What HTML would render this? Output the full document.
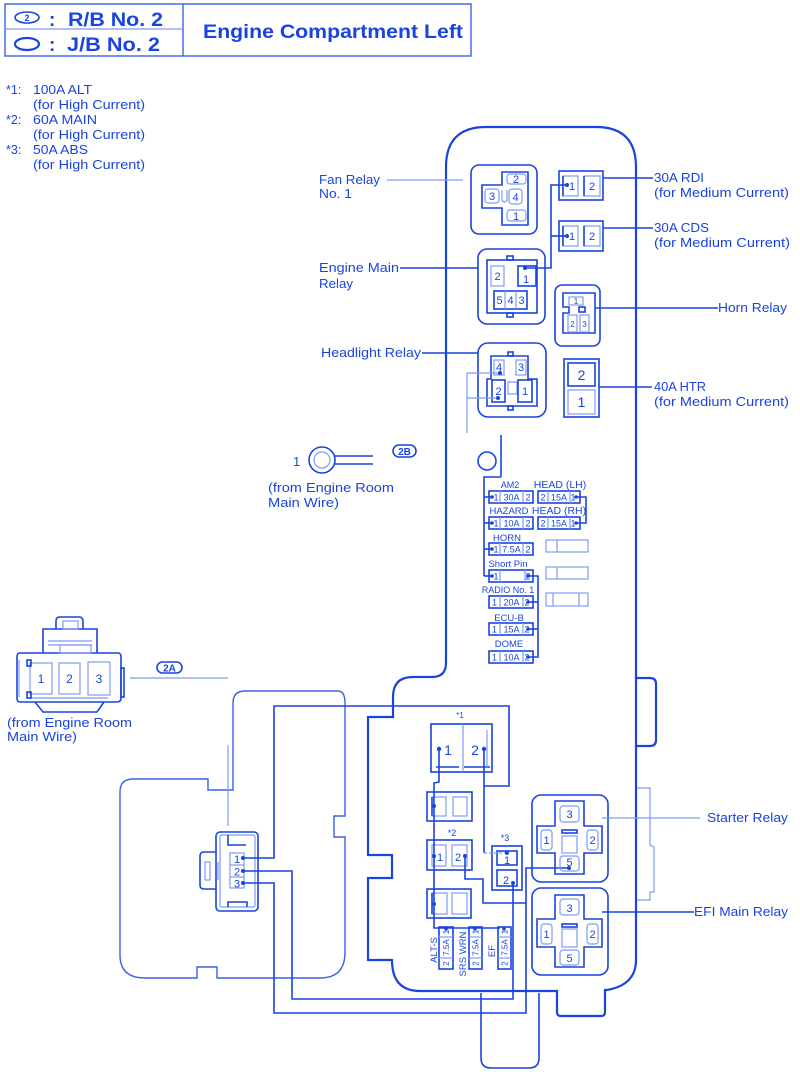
<!DOCTYPE html>
<html><head><meta charset="utf-8"><style>
html,body{margin:0;padding:0;background:#fff;}
svg{display:block}
.s{stroke:#1a44e0;fill:none;stroke-width:1.6}
.w{stroke:#1a44e0;fill:none;stroke-width:2.2}
.l{stroke:#7f9bf0;fill:none;stroke-width:1.2}
.m{stroke:#3a60e8;fill:none;stroke-width:1.4}
text{fill:#1a44e0;font-family:"Liberation Sans",Arial,sans-serif}
.lb{font-size:12.5px}
.f{font-size:9px}
.d{fill:#1a44e0}
</style></head><body>
<svg width="800" height="1072" viewBox="0 0 800 1072" xmlns="http://www.w3.org/2000/svg">
<!-- Header -->
<rect x="5" y="4" width="466" height="52" class="m"/>
<line x1="183" y1="4" x2="183" y2="56" class="m"/>
<line x1="5" y1="29" x2="183" y2="29" class="l"/>
<ellipse cx="27" cy="17.5" rx="12" ry="5.5" class="s" stroke-width="2"/>
<text x="27" y="21" font-size="9" font-weight="bold" text-anchor="middle">2</text>
<text x="49" y="26" font-size="19" font-weight="bold">:</text>
<text x="68" y="26" font-size="19" font-weight="bold" textLength="95" lengthAdjust="spacingAndGlyphs">R/B No. 2</text>
<ellipse cx="27" cy="44" rx="12" ry="6" class="w"/>
<text x="49" y="51" font-size="19" font-weight="bold">:</text>
<text x="67" y="51" font-size="19" font-weight="bold" textLength="93" lengthAdjust="spacingAndGlyphs">J/B No. 2</text>
<text x="203" y="38" font-size="19" font-weight="bold" textLength="260" lengthAdjust="spacingAndGlyphs">Engine Compartment Left</text>

<!-- Notes -->
<g class="lb">
<text x="6" y="94">*1:</text><text x="33" y="94" textLength="59" lengthAdjust="spacingAndGlyphs">100A ALT</text>
<text x="33" y="109" textLength="112" lengthAdjust="spacingAndGlyphs">(for High Current)</text>
<text x="6" y="124">*2:</text><text x="33" y="124" textLength="64" lengthAdjust="spacingAndGlyphs">60A MAIN</text>
<text x="33" y="139" textLength="112" lengthAdjust="spacingAndGlyphs">(for High Current)</text>
<text x="6" y="154">*3:</text><text x="33" y="154" textLength="55" lengthAdjust="spacingAndGlyphs">50A ABS</text>
<text x="33" y="169" textLength="112" lengthAdjust="spacingAndGlyphs">(for High Current)</text>
</g>

<!-- Main box outline -->
<path class="w" d="M446,663 L446,167 Q446,127 486,127 L596,127 Q636,127 636,167 L636,960 Q636,985 607,990 L605,990 L605,1012 Q605,1016 601,1016 L561,1016 Q557,1016 557,1012 L557,991 L420,991 Q392,991 392,960 L368,960 L368,878 L392,878 L392,855 L368,855 L368,717 L393,717 L393,697 Q393,677 413,677 L432,677 Q446,677 446,663 Z"/>
<path class="s" d="M481,993 L481,1058 Q481,1068 491,1068 L529,1068 Q539,1068 539,1058 L539,993"/>
<path class="w" d="M637,678 L650,678 Q656,678 656,684 L656,740 Q656,746 650,746 L637,746"/>
<path class="l" d="M637,788 L650,788 L650,845 L654,847 L654,892 L650,892 L650,900 L637,900"/>

<!-- Left secondary outline -->
<path class="m" d="M233,703 Q233,691 245,691 L338,691 Q345,691 345,703 L345,816 L334,816 L334,837 L345,837 L345,952 Q345,978 320,978 L217,978 L217,967 L197,967 L197,978 L145,978 Q120,978 120,955 L120,792 Q120,779 133,779 L208,779 L208,790 L233,790 Z"/>

<!-- Fan Relay No.1 -->
<rect x="471" y="165" width="66" height="69" rx="8" class="s"/>
<path class="s" d="M502,172 L528,172 L528,225 L502,225 L502,208 L482,208 L482,185 L502,185 Z"/>
<rect x="507" y="174" width="19" height="10" rx="3" class="l"/>
<rect x="485" y="189" width="14" height="14" rx="3" class="l"/>
<rect x="509" y="189" width="13" height="15" rx="3" class="l"/>
<rect x="507" y="210" width="19" height="11" rx="3" class="l"/>
<path class="l" d="M502,190 L502,200 Q504.5,204 507,200 L507,190"/>
<g font-size="11" text-anchor="middle">
<text x="516" y="183">2</text><text x="492" y="200">3</text><text x="515.5" y="201">4</text><text x="516" y="220">1</text>
</g>
<line x1="387" y1="180" x2="463" y2="180" class="l"/>
<text x="319" y="184" class="lb" textLength="61" lengthAdjust="spacingAndGlyphs">Fan Relay</text>
<text x="319" y="198" class="lb" textLength="33" lengthAdjust="spacingAndGlyphs">No. 1</text>

<!-- Engine Main Relay -->
<rect x="478" y="249" width="67" height="75" rx="9" class="s"/>
<rect x="487" y="260" width="50" height="53" class="s"/>
<rect x="507" y="256" width="6" height="4" class="s" stroke-width="1.2"/>
<rect x="507" y="313" width="6" height="4" class="s" stroke-width="1.2"/>
<rect x="491" y="266" width="13" height="20" class="l"/>
<rect x="518" y="266" width="18" height="20" class="s"/>
<rect x="494" y="291" width="33" height="18" class="s"/>
<line x1="505" y1="291" x2="505" y2="309" class="l"/><line x1="516" y1="291" x2="516" y2="309" class="l"/>
<g font-size="11" text-anchor="middle">
<text x="497.5" y="280">2</text><text x="526" y="283">1</text>
<text x="499.5" y="304">5</text><text x="510.5" y="304">4</text><text x="521.5" y="304">3</text>
</g>
<line x1="400" y1="268" x2="478" y2="268" class="s" stroke-width="1.3"/>
<text x="319" y="272" class="lb" textLength="80" lengthAdjust="spacingAndGlyphs">Engine Main</text>
<text x="319" y="288" class="lb" textLength="34" lengthAdjust="spacingAndGlyphs">Relay</text>

<!-- 30A RDI / CDS -->
<rect x="559" y="171" width="44" height="29" class="s"/>
<rect x="563" y="176" width="15" height="20" class="l"/><line x1="563" y1="176" x2="563" y2="196" class="s"/>
<rect x="584" y="176" width="16" height="20" class="l"/><line x1="584" y1="176" x2="584" y2="196" class="s"/>
<text x="572" y="190" font-size="11" text-anchor="middle">1</text><text x="592" y="190" font-size="11" text-anchor="middle">2</text>
<rect x="559" y="221" width="44" height="30" class="s"/>
<rect x="563" y="226" width="15" height="20" class="l"/><line x1="563" y1="226" x2="563" y2="246" class="s"/>
<rect x="584" y="226" width="16" height="20" class="l"/><line x1="584" y1="226" x2="584" y2="246" class="s"/>
<text x="572" y="240" font-size="11" text-anchor="middle">1</text><text x="592" y="240" font-size="11" text-anchor="middle">2</text>
<polyline class="s" stroke-width="1.3" points="525,268 551,268 551,185 567,185"/>
<polyline class="s" stroke-width="1.3" points="551,236 567,236"/>
<circle cx="525" cy="268" r="2" class="d"/><circle cx="567" cy="185" r="2" class="d"/><circle cx="567" cy="236" r="2" class="d"/>
<line x1="603" y1="178" x2="653" y2="178" class="s" stroke-width="1.3"/>
<line x1="603" y1="228" x2="653" y2="228" class="s" stroke-width="1.3"/>
<text x="654" y="182" class="lb" textLength="50" lengthAdjust="spacingAndGlyphs">30A RDI</text>
<text x="654" y="197" class="lb" textLength="135" lengthAdjust="spacingAndGlyphs">(for Medium Current)</text>
<text x="654" y="232" class="lb" textLength="55" lengthAdjust="spacingAndGlyphs">30A CDS</text>
<text x="654" y="247" class="lb" textLength="136" lengthAdjust="spacingAndGlyphs">(for Medium Current)</text>

<!-- Horn Relay -->
<rect x="555" y="285" width="45" height="61" rx="7" class="s"/>
<path class="s" d="M563,293 L595,293 L595,333 L563,333 L563,313 L569,313 L569,307 L563,307 Z"/>
<rect x="569" y="297" width="14" height="8" class="l"/>
<rect x="579" y="307" width="6" height="5" class="s" stroke-width="1"/>
<rect x="568" y="315" width="9" height="17" class="l"/>
<rect x="580" y="315" width="9" height="17" class="l"/>
<text x="576" y="304" font-size="8" text-anchor="middle">1</text>
<text x="572.5" y="327" font-size="8" text-anchor="middle">2</text>
<text x="584.5" y="327" font-size="8" text-anchor="middle">3</text>
<line x1="595" y1="308" x2="718" y2="308" class="s" stroke-width="1.3"/>
<text x="718" y="312" class="lb" textLength="69" lengthAdjust="spacingAndGlyphs">Horn Relay</text>

<!-- Headlight Relay -->
<rect x="478" y="343" width="68" height="74" rx="10" class="s"/>
<path class="s" d="M491,356 L528,356 L528,379 L537,379 L537,406 L487,406 L487,379 L491,379 Z"/>
<rect x="508" y="352" width="5" height="4" class="s" stroke-width="1.1"/>
<rect x="508" y="406" width="5" height="4" class="s" stroke-width="1.1"/>
<rect x="494" y="360" width="10" height="15" class="l"/>
<rect x="516" y="360" width="10" height="15" class="l"/>
<rect x="492" y="380" width="13" height="22" class="s"/>
<rect x="508" y="382" width="9" height="12" class="l"/>
<rect x="518" y="380" width="14" height="22" class="s"/>
<g font-size="11" text-anchor="middle">
<text x="499" y="371">4</text><text x="521" y="371">3</text><text x="498.5" y="395">2</text><text x="525" y="395">1</text>
</g>
<polyline class="l" points="500,373 467,373 467,433"/>
<polyline class="l" points="498,398 467,398"/>
<circle cx="500" cy="373" r="2" class="d"/><circle cx="498" cy="398" r="2" class="d"/>
<line x1="422" y1="353" x2="478" y2="353" class="s" stroke-width="1.3"/>
<text x="321" y="357" class="lb" textLength="100" lengthAdjust="spacingAndGlyphs">Headlight Relay</text>

<!-- 40A HTR -->
<rect x="564" y="359" width="35" height="58" class="s"/>
<rect x="568" y="363" width="27" height="23" class="s" stroke-width="1.2"/>
<rect x="568" y="390" width="27" height="24" class="l"/>
<text x="581.5" y="380" font-size="14" text-anchor="middle">2</text>
<text x="581.5" y="407" font-size="14" text-anchor="middle">1</text>
<line x1="599" y1="387" x2="652" y2="387" class="s" stroke-width="1.3"/>
<text x="654" y="391" class="lb" textLength="52" lengthAdjust="spacingAndGlyphs">40A HTR</text>
<text x="654" y="406" class="lb" textLength="135" lengthAdjust="spacingAndGlyphs">(for Medium Current)</text>

<!-- circle + wire into fuse block -->
<circle cx="487" cy="461" r="9" class="s" stroke-width="1.3"/>
<line x1="501" y1="435" x2="501" y2="477" class="s" stroke-width="1.2"/>
<polyline class="s" stroke-width="1.3" points="501,477 484,477 484,576"/>

<!-- Fuse block -->
<g class="f" text-anchor="middle">
<text x="510" y="488" font-size="9">AM2</text>
<text x="560" y="488" font-size="10.5">HEAD (LH)</text>
<text x="509" y="514" font-size="9.5">HAZARD</text>
<text x="559" y="514" font-size="10.5">HEAD (RH)</text>
<text x="507" y="541" font-size="9.5">HORN</text>
<text x="508" y="567" font-size="9.5">Short Pin</text>
<text x="508" y="593" font-size="9">RADIO No. 1</text>
<text x="509" y="621" font-size="9.5">ECU-B</text>
<text x="509" y="647" font-size="9.5">DOME</text>
</g>
<!-- left column fuses -->
<g>
<rect x="489" y="491" width="44" height="12" class="s"/><line x1="500" y1="491" x2="500" y2="503" class="l"/><line x1="523" y1="491" x2="523" y2="503" class="l"/>
<rect x="489" y="517" width="44" height="12" class="s"/><line x1="500" y1="517" x2="500" y2="529" class="l"/><line x1="523" y1="517" x2="523" y2="529" class="l"/>
<rect x="489" y="543" width="44" height="12" class="s"/><line x1="500" y1="543" x2="500" y2="555" class="l"/><line x1="523" y1="543" x2="523" y2="555" class="l"/>
<rect x="489" y="570" width="44" height="12" class="s"/><line x1="500" y1="570" x2="500" y2="582" class="l"/><line x1="525" y1="570" x2="525" y2="582" class="l"/>
<rect x="489" y="596" width="44" height="12" class="s"/><line x1="500" y1="596" x2="500" y2="608" class="l"/><line x1="523" y1="596" x2="523" y2="608" class="l"/>
<rect x="489" y="623" width="44" height="12" class="s"/><line x1="500" y1="623" x2="500" y2="635" class="l"/><line x1="523" y1="623" x2="523" y2="635" class="l"/>
<rect x="489" y="651" width="44" height="12" class="s"/><line x1="500" y1="651" x2="500" y2="663" class="l"/><line x1="523" y1="651" x2="523" y2="663" class="l"/>
</g>
<g font-size="9" text-anchor="middle">
<text x="496" y="500.5">1</text><text x="511.5" y="500.5">30A</text><text x="528" y="500.5">2</text>
<text x="496" y="526.5">1</text><text x="511.5" y="526.5">10A</text><text x="528" y="526.5">2</text>
<text x="496" y="552.5">1</text><text x="511.5" y="552.5">7.5A</text><text x="528" y="552.5">2</text>
<text x="496" y="579.5">1</text><text x="528" y="579.5">2</text>
<text x="494.5" y="605.5">1</text><text x="511.5" y="605.5">20A</text><text x="527" y="605.5">2</text>
<text x="494.5" y="632.5">1</text><text x="511.5" y="632.5">15A</text><text x="527" y="632.5">2</text>
<text x="494.5" y="660.5">1</text><text x="511.5" y="660.5">10A</text><text x="527" y="660.5">2</text>
</g>
<!-- HEAD fuses -->
<rect x="538" y="491" width="42" height="12" class="s"/><line x1="548" y1="491" x2="548" y2="503" class="l"/><line x1="570" y1="491" x2="570" y2="503" class="l"/>
<rect x="538" y="517" width="42" height="12" class="s"/><line x1="548" y1="517" x2="548" y2="529" class="l"/><line x1="570" y1="517" x2="570" y2="529" class="l"/>
<g font-size="9" text-anchor="middle">
<text x="543" y="500.5">2</text><text x="559" y="500.5">15A</text><text x="573" y="500.5">1</text>
<text x="543" y="526.5">2</text><text x="559" y="526.5">15A</text><text x="573" y="526.5">1</text>
</g>
<polyline class="s" stroke-width="1.2" points="576,497 586,497 586,523 576,523"/>
<circle cx="576" cy="497" r="1.8" class="d"/><circle cx="576" cy="523" r="1.8" class="d"/>
<!-- empty slots -->
<rect x="546" y="540" width="42" height="12" class="l"/><line x1="557" y1="540" x2="557" y2="552" class="l"/>
<rect x="546" y="567" width="42" height="12" class="l"/><line x1="557" y1="567" x2="557" y2="579" class="l"/>
<rect x="546" y="593" width="42" height="13" class="l"/><line x1="553" y1="593" x2="553" y2="606" class="l"/><line x1="579" y1="593" x2="579" y2="606" class="l"/>
<!-- fuse wires -->
<g class="s" stroke-width="1.2">
<line x1="484" y1="497" x2="492" y2="497"/><line x1="484" y1="523" x2="492" y2="523"/>
<line x1="484" y1="549" x2="492" y2="549"/><line x1="484" y1="576" x2="492" y2="576"/>
<polyline points="528,576 538,576 538,657 528,657"/>
<line x1="528" y1="602" x2="538" y2="602"/><line x1="528" y1="629" x2="538" y2="629"/>
</g>
<g class="d">
<circle cx="492" cy="497" r="1.8"/><circle cx="492" cy="523" r="1.8"/><circle cx="492" cy="549" r="1.8"/><circle cx="492" cy="576" r="1.8"/>
<circle cx="528" cy="576" r="1.8"/><circle cx="528" cy="602" r="1.8"/><circle cx="528" cy="629" r="1.8"/><circle cx="528" cy="657" r="1.8"/>
</g>

<!-- 2B terminal -->
<circle cx="322" cy="460" r="13" class="s" stroke-width="1.4"/>
<circle cx="322" cy="460" r="8" class="l"/>
<line x1="334" y1="456" x2="373" y2="456" class="s" stroke-width="1.2"/>
<line x1="334" y1="464" x2="373" y2="464" class="s" stroke-width="1.2"/>
<text x="293" y="466" font-size="13">1</text>
<rect x="393" y="445" width="23" height="12" rx="6" class="s" stroke-width="1.4"/>
<text x="404.5" y="455" font-size="10" text-anchor="middle" font-weight="bold">2B</text>
<text x="268" y="492" class="lb" textLength="126" lengthAdjust="spacingAndGlyphs">(from Engine Room</text>
<text x="268" y="507" class="lb" textLength="71" lengthAdjust="spacingAndGlyphs">Main Wire)</text>

<!-- 2A connector -->
<path class="s" d="M20,653 L118,653 Q121,653 121,657 L121,698 Q121,702 117,702 L20,702 Q17,702 17,698 L17,657 Q17,653 20,653 Z"/>
<path class="s" d="M43,653 L43,629 L97,629 L97,653"/>
<path class="s" d="M56,629 L56,621 Q56,617 60,617 L79,617 Q83,617 83,621 L83,629"/>
<rect x="63" y="621" width="15" height="8" class="l"/>
<line x1="48" y1="641" x2="92" y2="641" class="l"/><line x1="48" y1="645" x2="92" y2="645" class="l"/>
<rect x="60" y="645" width="31" height="8" class="l"/>
<path class="s" d="M35,702 L43,712 L97,712 L104,702"/>
<rect x="30" y="663" width="22" height="31" class="l"/>
<rect x="59" y="663" width="21" height="31" class="l"/>
<rect x="88" y="662" width="22" height="33" class="l"/>
<line x1="29" y1="698" x2="108" y2="698" class="l"/>
<rect x="27" y="660" width="4" height="6" class="s" stroke-width="1"/>
<rect x="27" y="692" width="4" height="6" class="s" stroke-width="1"/>
<rect x="121" y="668" width="3" height="29" class="s" stroke-width="1.2"/>
<line x1="19" y1="660" x2="19" y2="697" class="l"/>
<g font-size="12" text-anchor="middle"><text x="41" y="683">1</text><text x="69.5" y="683">2</text><text x="99" y="683">3</text></g>
<rect x="157" y="662" width="25" height="11" rx="5.5" class="s" stroke-width="1.4"/>
<text x="169.5" y="671.5" font-size="10" text-anchor="middle" font-weight="bold">2A</text>
<line x1="130" y1="678" x2="228" y2="678" class="l"/>
<line x1="228" y1="745" x2="228" y2="826" class="l"/>
<text x="7" y="727" class="lb" textLength="125" lengthAdjust="spacingAndGlyphs">(from Engine Room</text>
<text x="7" y="741" class="lb" textLength="70" lengthAdjust="spacingAndGlyphs">Main Wire)</text>

<!-- 3-pin connector -->
<rect x="216" y="832" width="42" height="79" rx="4" class="s"/>
<rect x="220" y="835" width="35" height="72" rx="2" class="l"/>
<path class="s" d="M216,852 L204,852 Q200,852 200,856 L200,885 Q200,889 204,889 L216,889"/>
<rect x="205" y="862" width="5" height="18" class="l"/>
<line x1="218" y1="862" x2="218" y2="880" class="l"/>
<polyline class="s" stroke-width="1.1" points="228,835 228,845 246,845"/>
<polyline class="s" stroke-width="1.1" points="228,907 228,902 247,902 247,907"/>
<rect x="230" y="853" width="14" height="35" class="l"/>
<line x1="230" y1="865" x2="244" y2="865" class="l"/><line x1="230" y1="877" x2="244" y2="877" class="l"/>
<g font-size="11" text-anchor="middle"><text x="237" y="863">1</text><text x="237" y="875.5">2</text><text x="237" y="887.5">3</text></g>

<!-- Bottom fuse boxes -->
<text x="460" y="718" font-size="8" text-anchor="middle" fill="#7f9bf0">*1</text>
<rect x="431" y="724" width="61" height="48" class="s"/>
<line x1="463" y1="724" x2="463" y2="772" class="l"/>
<line x1="436" y1="767" x2="459" y2="767" class="s" stroke-width="1.2"/>
<line x1="464" y1="767" x2="490" y2="767" class="s" stroke-width="1.2"/>
<line x1="487" y1="730" x2="487" y2="767" class="l"/>
<text x="448" y="755" font-size="14" text-anchor="middle">1</text>
<text x="475" y="755" font-size="14" text-anchor="middle">2</text>

<rect x="427" y="792" width="45" height="29" class="s"/>
<rect x="432" y="797" width="14" height="19" class="l"/><line x1="432" y1="797" x2="432" y2="816" class="s"/>
<rect x="453" y="797" width="14" height="19" class="l"/>

<text x="452" y="836" font-size="9" text-anchor="middle">*2</text>
<rect x="427" y="840" width="45" height="30" class="s"/>
<rect x="432" y="845" width="14" height="21" class="l"/>
<rect x="452" y="845" width="15" height="21" class="l"/>
<text x="440" y="861" font-size="11" text-anchor="middle">1</text>
<text x="458" y="861" font-size="11" text-anchor="middle">2</text>

<rect x="427" y="889" width="44" height="29" class="s"/>
<rect x="432" y="893" width="15" height="21" class="l"/><line x1="432" y1="893" x2="432" y2="914" class="s"/>
<rect x="452" y="893" width="15" height="21" class="l"/>

<text x="505" y="841" font-size="9" text-anchor="middle">*3</text>
<rect x="492" y="846" width="30" height="44" class="s"/>
<rect x="497" y="851" width="20" height="14" class="s" stroke-width="1.2"/>
<rect x="497" y="870" width="20" height="16" class="s" stroke-width="1.2"/>
<text x="507" y="864" font-size="11" text-anchor="middle">1</text>
<text x="506" y="884" font-size="11" text-anchor="middle">2</text>

<!-- small vertical fuses -->
<rect x="439" y="927" width="14" height="42" class="s"/>
<line x1="439" y1="937" x2="453" y2="937" class="l"/><line x1="439" y1="958" x2="453" y2="958" class="l"/>
<rect x="469" y="927" width="13" height="42" class="s"/>
<line x1="469" y1="937" x2="482" y2="937" class="l"/><line x1="469" y1="958" x2="482" y2="958" class="l"/>
<rect x="498" y="927" width="13" height="42" class="s"/>
<line x1="498" y1="937" x2="511" y2="937" class="l"/><line x1="498" y1="958" x2="511" y2="958" class="l"/>
<g font-size="8" text-anchor="middle">
<text transform="translate(449,932) rotate(-90)">1</text>
<text transform="translate(449,947.5) rotate(-90)">7.5A</text>
<text transform="translate(449,963.5) rotate(-90)">2</text>
<text transform="translate(478.5,932) rotate(-90)">1</text>
<text transform="translate(478.5,947.5) rotate(-90)">7.5A</text>
<text transform="translate(478.5,963.5) rotate(-90)">2</text>
<text transform="translate(507.5,932) rotate(-90)">1</text>
<text transform="translate(507.5,947.5) rotate(-90)">7.5A</text>
<text transform="translate(507.5,963.5) rotate(-90)">2</text>
</g>
<g font-size="9.5" text-anchor="middle">
<text transform="translate(437,950) rotate(-90)">ALT-S</text>
<text transform="translate(466,954) rotate(-90)">SRS WRN</text>
<text transform="translate(495,951) rotate(-90)">EF</text>
</g>

<!-- Wires bottom -->
<g class="s" stroke-width="1.3">
<polyline points="439,749 439,782 434,783 434,928 500,928"/>
<polyline points="484,749 484,853"/>
<polyline points="484,786 509,786 509,706 274,706 274,858 243,858"/>
<polyline points="243,871 292,871 292,999 513,999 513,883"/>
<polyline points="243,883 274,883 274,1013 526,1013 526,868 569,868"/>
<polyline points="465,856 465,879 483,879 483,903 526,903"/>
</g>
<line x1="484" y1="853" x2="507" y2="853" class="l" stroke-dasharray="3,2"/>
<g class="d">
<circle cx="439" cy="749" r="2.2"/><circle cx="484" cy="749" r="2.2"/>
<circle cx="434" cy="806" r="2"/><circle cx="434" cy="856" r="2"/><circle cx="434" cy="904" r="2"/>
<circle cx="465" cy="856" r="2"/><circle cx="507" cy="853" r="2"/><circle cx="513" cy="883" r="2"/>
<circle cx="243" cy="858" r="2"/><circle cx="243" cy="871" r="2"/><circle cx="243" cy="883" r="2"/>
<circle cx="446" cy="929" r="1.8"/><circle cx="475" cy="929" r="1.8"/><circle cx="504" cy="929" r="1.8"/>
<circle cx="569" cy="868" r="2"/>
</g>

<!-- Starter Relay -->
<rect x="532" y="795" width="76" height="87" rx="9" class="s"/>
<path class="s" d="M555,801 L584,801 L584,826 L602,826 L602,853 L584,853 L584,874 L555,874 L555,853 L537,853 L537,826 L555,826 Z"/>
<rect x="560" y="806" width="19" height="16" rx="3" class="l"/>
<rect x="541" y="830" width="11" height="20" rx="3" class="l"/>
<rect x="587" y="830" width="11" height="20" rx="3" class="l"/>
<rect x="560" y="856" width="19" height="15" rx="3" class="l"/>
<rect x="562" y="836" width="15" height="17" class="l"/>
<rect x="562" y="830" width="15" height="3" class="s" stroke-width="1"/>
<g font-size="11" text-anchor="middle">
<text x="569.5" y="818">3</text><text x="546.5" y="844">1</text><text x="592.5" y="844">2</text><text x="569.5" y="866">5</text>
</g>
<line x1="602" y1="818" x2="700" y2="818" class="l"/>
<text x="707" y="822" class="lb" textLength="81" lengthAdjust="spacingAndGlyphs">Starter Relay</text>

<!-- EFI Main Relay -->
<rect x="532" y="888" width="76" height="87" rx="9" class="s"/>
<path class="s" d="M555,895 L584,895 L584,919 L602,919 L602,947 L584,947 L584,967 L555,967 L555,947 L537,947 L537,919 L555,919 Z"/>
<rect x="560" y="899" width="19" height="16" rx="3" class="l"/>
<rect x="541" y="924" width="11" height="20" rx="3" class="l"/>
<rect x="587" y="924" width="11" height="20" rx="3" class="l"/>
<rect x="560" y="950" width="19" height="15" rx="3" class="l"/>
<rect x="562" y="929" width="15" height="18" class="l"/>
<rect x="562" y="924" width="15" height="3" class="s" stroke-width="1"/>
<g font-size="11" text-anchor="middle">
<text x="569.5" y="912">3</text><text x="546.5" y="938">1</text><text x="592.5" y="938">2</text><text x="569.5" y="962">5</text>
</g>
<line x1="602" y1="912" x2="694" y2="912" class="s" stroke-width="1.3"/>
<text x="694" y="916" class="lb" textLength="94" lengthAdjust="spacingAndGlyphs">EFI Main Relay</text>
</svg>
</body></html>
